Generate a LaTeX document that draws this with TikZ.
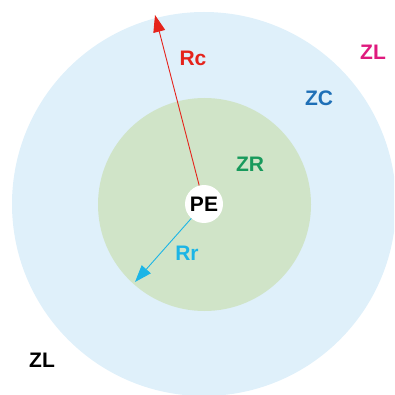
\documentclass[tikz,border=0pt]{standalone}
\usepackage{fontspec}
\setmainfont{Liberation Sans}
\usetikzlibrary{arrows.meta}
\definecolor{zcfill}{HTML}{DFF0FA}
\definecolor{zrfill}{HTML}{D0E4C8}
\definecolor{rcred}{HTML}{E5231B}
\definecolor{rrcyan}{HTML}{1CB5E6}
\definecolor{zlmag}{HTML}{DF1A7E}
\definecolor{zcblue}{HTML}{1E6FB6}
\definecolor{zrgreen}{HTML}{189A5C}
\tikzset{
  lbl/.style={font=\fontsize{21}{21}\selectfont\bfseries, inner sep=0pt},
  radarrow/.style={line width=0.9pt, -{Triangle[length=17pt,width=12pt]}},
}
\begin{document}
\begin{tikzpicture}[x=1pt,y=-1pt]
\useasboundingbox (0,0) rectangle (394,395);
\clip (0,0) rectangle (394,395);
\fill[zcfill] (204,204) circle[radius=192];
\fill[zrfill] (204.5,204.5) circle[radius=106.5];
\node[circle, fill=white, minimum size=38pt, inner sep=0pt, font=\fontsize{21}{21}\selectfont\bfseries] (pe) at (204,204) {PE};
\coordinate (rctip) at (155,15);
\coordinate (rrtip) at (135,282);
\draw[radarrow, rcred] (pe) -- (rctip);
\draw[radarrow, rrcyan] (pe) -- (rrtip);
\node[lbl, text=rcred] (rc) at (193,58) {Rc};
\node[lbl, text=rrcyan] (rr) at (187,253) {Rr};
\node[lbl, text=zrgreen] (zr) at (250,164) {ZR};
\node[lbl, text=zcblue] (zc) at (319,98) {ZC};
\node[lbl, text=zlmag] (zl1) at (373,52) {ZL};
\node[lbl, text=black] (zl2) at (42,360) {ZL};
\end{tikzpicture}
\end{document}
